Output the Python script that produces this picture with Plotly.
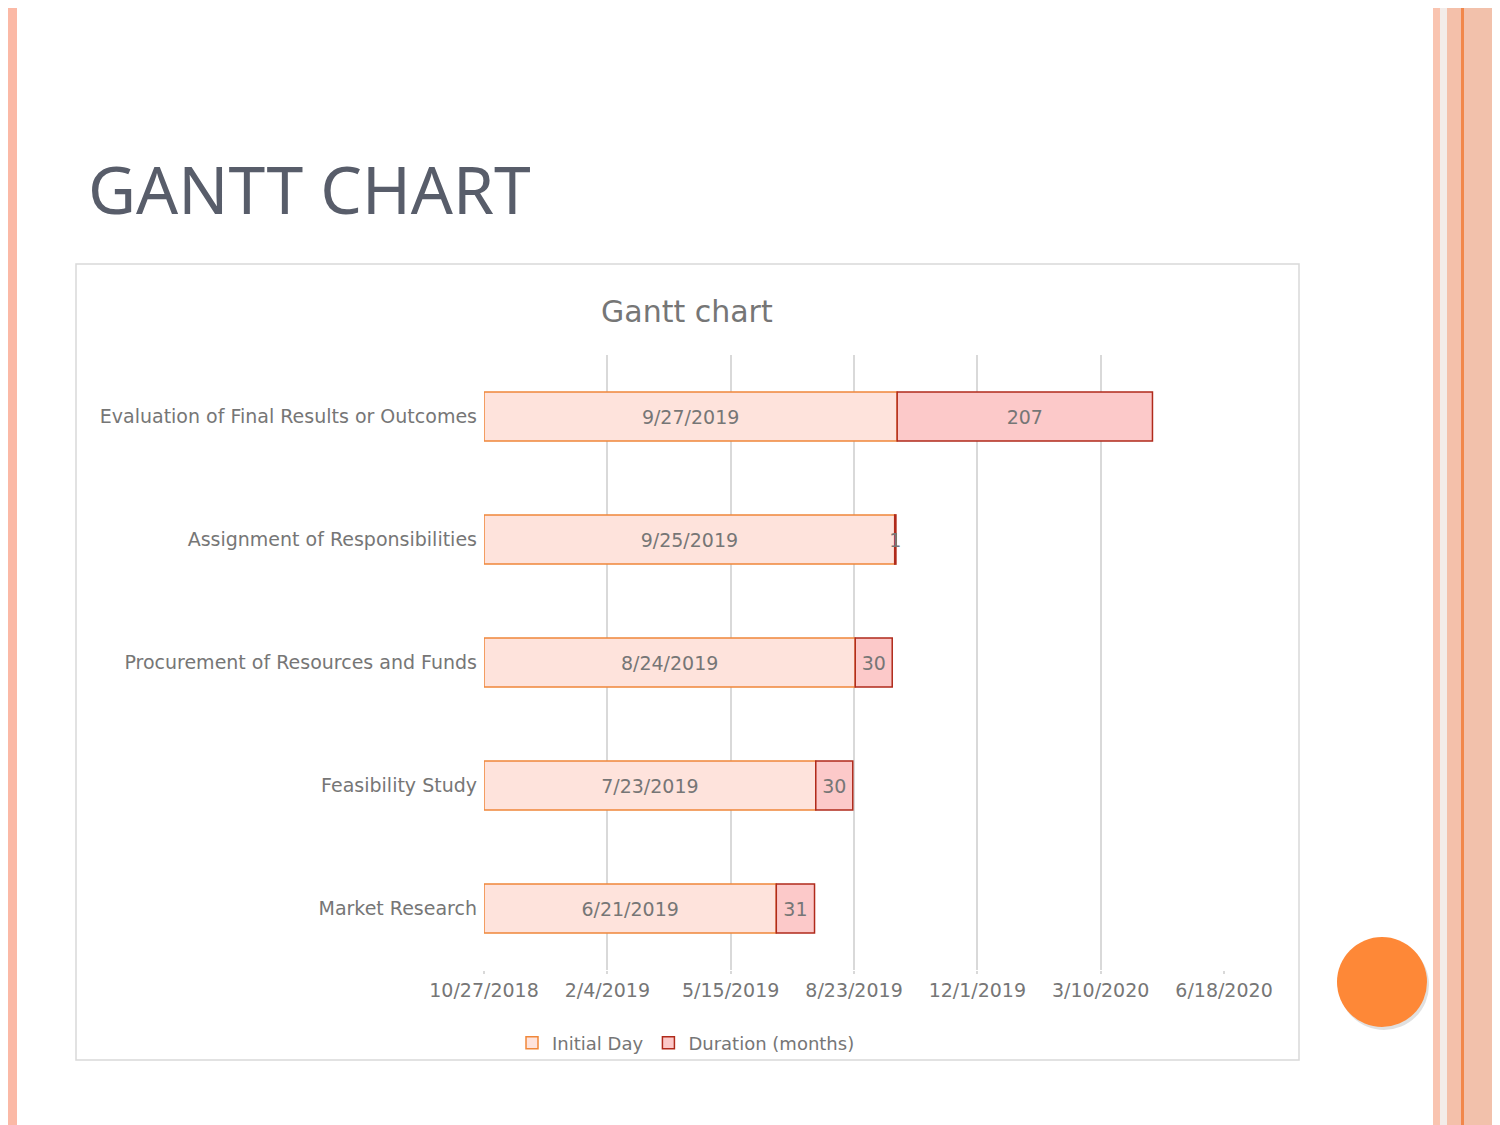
import pandas as pd
import plotly.graph_objects as go

# ---------------- data ----------------
tasks = ["Market Research", "Feasibility Study", "Procurement of Resources and Funds",
         "Assignment of Responsibilities", "Evaluation of Final Results or Outcomes"]
start_dates = ["6/21/2019", "7/23/2019", "8/24/2019", "9/25/2019", "9/27/2019"]
durations = [31, 30, 30, 1, 207]
tick_labels = ["10/27/2018", "2/4/2019", "5/15/2019", "8/23/2019", "12/1/2019", "3/10/2020", "6/18/2020"]

EPOCH = pd.Timestamp("1899-12-30")
def serial(s):
    return (pd.Timestamp(pd.to_datetime(s, format="%m/%d/%Y")) - EPOCH).days

start_serial = [serial(d) for d in start_dates]
tick_serial = [serial(t) for t in tick_labels]
axis_min, axis_max = tick_serial[0], tick_serial[-1]

W, H = 1500, 1125
OFF = 8  # page body margin
def px(x): return (x - OFF) / W
def py(y): return 1 - (y - OFF) / H

TXT = "#767676"
FONT = "DejaVu Sans"
FS = 19

fig = go.Figure()
fig.add_trace(go.Bar(
    y=tasks, x=[s - axis_min for s in start_serial], base=axis_min, orientation="h",
    name="Initial Day", text=start_dates, textposition="inside", insidetextanchor="middle",
    constraintext="none",
    marker=dict(color="#fee3dc", line=dict(color="#f0873a", width=1.5)),
    textfont=dict(family=FONT, size=FS, color=TXT), width=0.4, hoverinfo="skip",
))
fig.add_trace(go.Bar(
    y=tasks, x=durations, base=start_serial, orientation="h",
    name="Duration (months)", text=[str(d) for d in durations], textposition="inside",
    insidetextanchor="middle", constraintext="none",
    marker=dict(color="#fcc9c9", line=dict(color="#b02a1b", width=1.5)),
    textfont=dict(family=FONT, size=FS, color=TXT), width=0.4, hoverinfo="skip",
))

fig.update_layout(
    width=W, height=H, margin=dict(l=0, r=0, t=0, b=0, pad=0, autoexpand=False),
    paper_bgcolor="white", plot_bgcolor="rgba(0,0,0,0)",
    barmode="overlay", bargap=0.6,
    font=dict(family=FONT, color=TXT),
    xaxis=dict(domain=[px(484), px(1224)], range=[axis_min, axis_max], automargin=False,
               tickvals=tick_serial, ticktext=tick_labels, showgrid=True,
               gridcolor="#d9d9d9", gridwidth=1.5, zeroline=False, showline=False,
               ticks="outside", ticklen=3, tickcolor="#d9d9d9", tickwidth=1.5,
               tickfont=dict(family=FONT, size=FS, color=TXT), anchor="y"),
    yaxis=dict(domain=[py(970), py(355)], categoryorder="array", categoryarray=tasks,
               showgrid=False, zeroline=False, showline=False, ticks="", automargin=False,
               ticklabelstandoff=6,
               tickfont=dict(family=FONT, size=FS, color=TXT)),
    legend=dict(orientation="h", x=px(686), xanchor="center", y=py(1043), yanchor="middle",
                font=dict(family=FONT, size=18, color=TXT), traceorder="normal",
                itemwidth=30, bgcolor="rgba(0,0,0,0)"),
    showlegend=True,
)

shapes = []
# left stripe
shapes.append(dict(type="rect", xref="paper", yref="paper", x0=px(8), x1=px(17), y0=0, y1=1,
                   fillcolor="#fbb9a6", line_width=0, layer="below"))
# right decorative stripes
for x0, x1, c in [(1433, 1440, "#f9c4b0"), (1440, 1447, "#f3ece9"), (1447, 1461, "#f4c0aa"),
                  (1461, 1464, "#f2874a"), (1464, 1520, "#f2c1ab")]:
    shapes.append(dict(type="rect", xref="paper", yref="paper", x0=px(x0), x1=min(px(x1), 1.0),
                       y0=0, y1=1, fillcolor=c, line_width=0, layer="below"))
# chart border
shapes.append(dict(type="rect", xref="paper", yref="paper", x0=px(76), x1=px(1299),
                   y0=py(1060), y1=py(264), line=dict(color="#d9d9d9", width=1.5),
                   fillcolor="rgba(0,0,0,0)", layer="below"))
# orange circle with shadow
shapes.append(dict(type="circle", xref="paper", yref="paper", x0=px(1339), x1=px(1429),
                   y0=py(1030), y1=py(940), fillcolor="rgba(0,0,0,0.12)", line_width=0, layer="above"))
shapes.append(dict(type="circle", xref="paper", yref="paper", x0=px(1337), x1=px(1427),
                   y0=py(1027), y1=py(937), fillcolor="#fe8837", line_width=0, layer="above"))
fig.update_layout(shapes=shapes)

fig.add_annotation(text="GANTT CHART", xref="paper", yref="paper", x=px(86), y=py(188),
                   xanchor="left", yanchor="middle", showarrow=False,
                   font=dict(family="Noto Sans", size=66, color="#585d6a"))
fig.add_annotation(text="Gantt chart", xref="paper", yref="paper", x=px(687), y=py(312),
                   xanchor="center", yanchor="middle", showarrow=False,
                   font=dict(family=FONT, size=30, color=TXT))

fig.write_html("out.html")
